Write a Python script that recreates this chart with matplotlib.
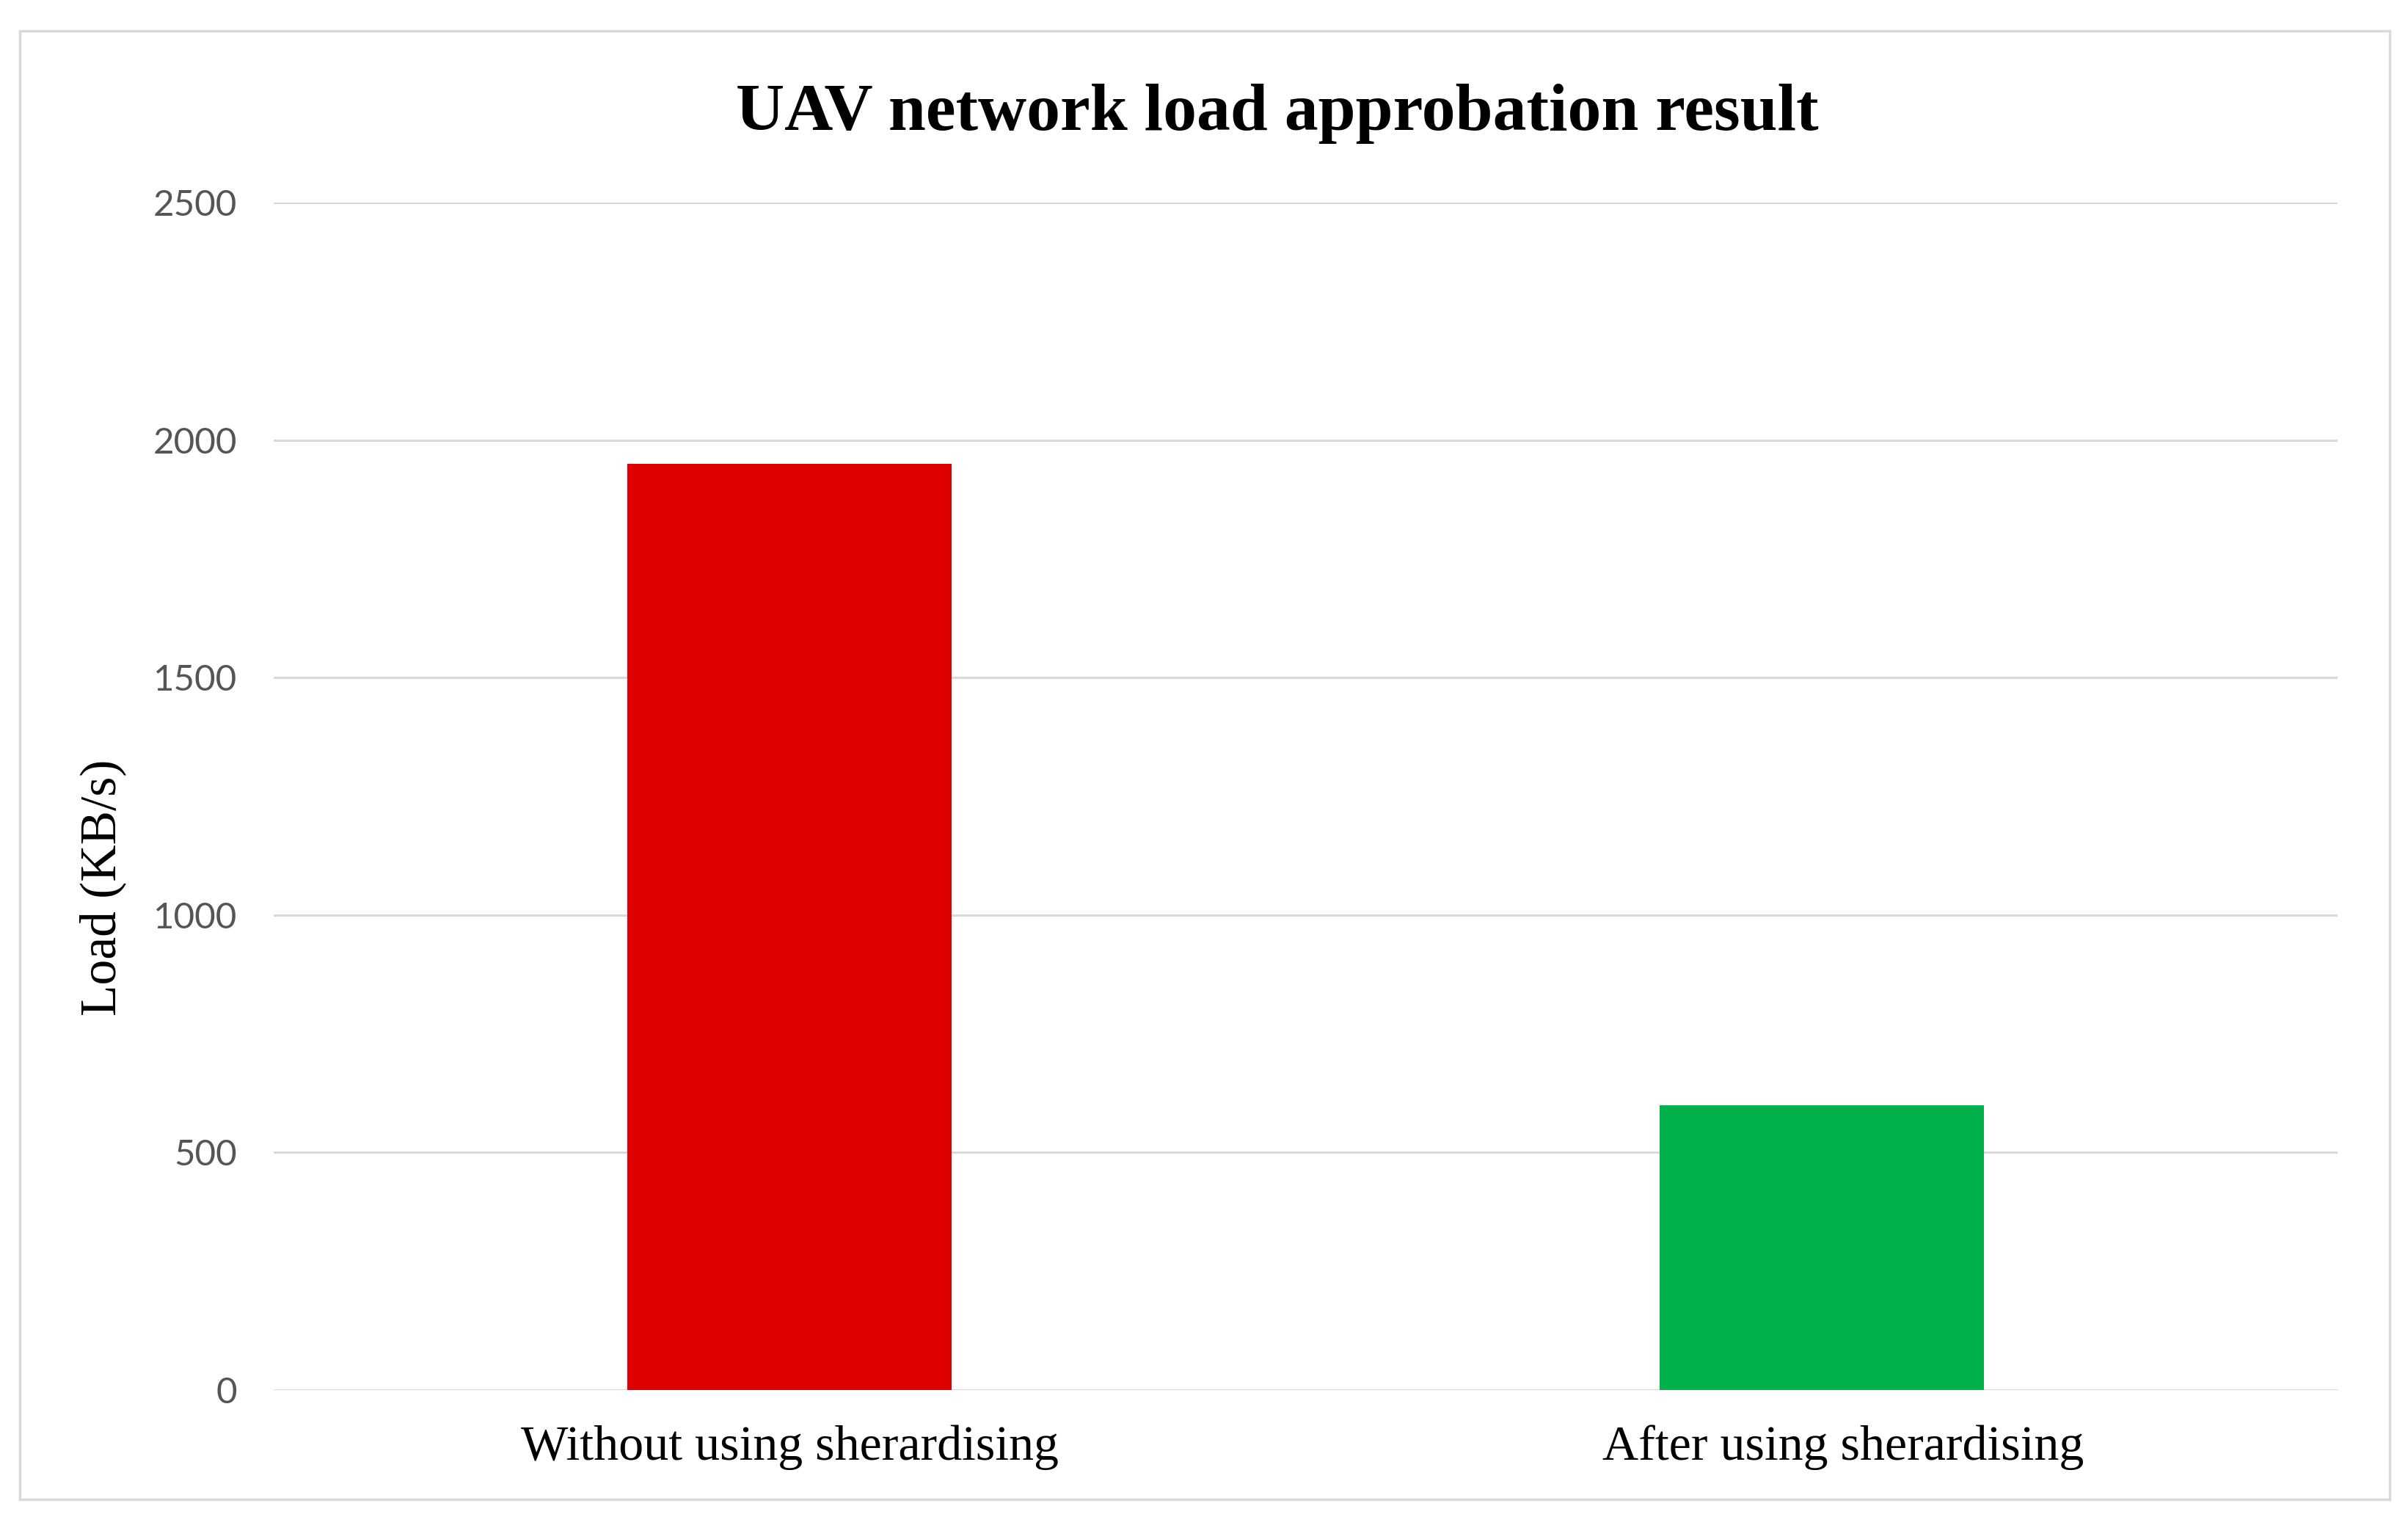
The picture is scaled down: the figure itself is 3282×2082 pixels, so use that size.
import matplotlib
import matplotlib.pyplot as plt
from matplotlib.patches import Rectangle
from matplotlib.transforms import ScaledTranslation

matplotlib.use("Agg")

categories = ["Without using sherardising", "After using sherardising"]
load_kbs = [1950, 600]
bar_colors = ["#df0000", "#00b04a"]
y_ticks = [0, 500, 1000, 1500, 2000, 2500]

SERIF = ["Liberation Serif", "DejaVu Serif"]
SANS = ["Lato", "DejaVu Sans"]

fig = plt.figure(figsize=(32.82, 20.82), dpi=100)
fig.patch.set_facecolor("white")

# chart-area border
fig.patches.append(Rectangle((27 / 3282, 1 - 2043 / 2082), (3257 - 27) / 3282, (2043 - 42) / 2082,
                             transform=fig.transFigure, fill=False, edgecolor="#d9d9d9", linewidth=2.5))

ax = fig.add_axes([373 / 3282, 188 / 2082, (3186 - 373) / 3282, (1894 - 276) / 2082])
x = range(len(categories))
ax.bar(x, load_kbs, width=0.314, color=bar_colors, zorder=3)

ax.set_xlim(-0.5, 1.5)
ax.set_ylim(0, 2500)
ax.set_yticks(y_ticks)
ax.set_yticklabels([str(v) for v in y_ticks], family=SANS, fontsize=35.5, color="#555555")
ax.set_xticks(list(x))
ax.set_xticklabels(categories, family=SERIF, fontsize=49, color="black")
ax.tick_params(axis="y", length=0, pad=36)
ax.tick_params(axis="x", length=0, pad=34)
ax.grid(axis="y", color="#d9d9d9", linewidth=2.2, zorder=0)
for s in ax.spines.values():
    s.set_visible(False)

# second category label sits a little right of its bar in the original
lbl = ax.get_xticklabels()[1]
lbl.set_transform(lbl.get_transform() + ScaledTranslation(0.29, 0, fig.dpi_scale_trans))

ax.set_ylabel("Load (KB/s)", family=SERIF, fontsize=50, color="black")
ax.yaxis.set_label_coords(-0.0715, 0.423)

fig.text(1741 / 3282, 1 - 177 / 2082, "UAV network load approbation result",
         family=SERIF, fontsize=66, fontweight="bold", ha="center", va="baseline")

fig.savefig("out.png", dpi=100)
plt.close(fig)
